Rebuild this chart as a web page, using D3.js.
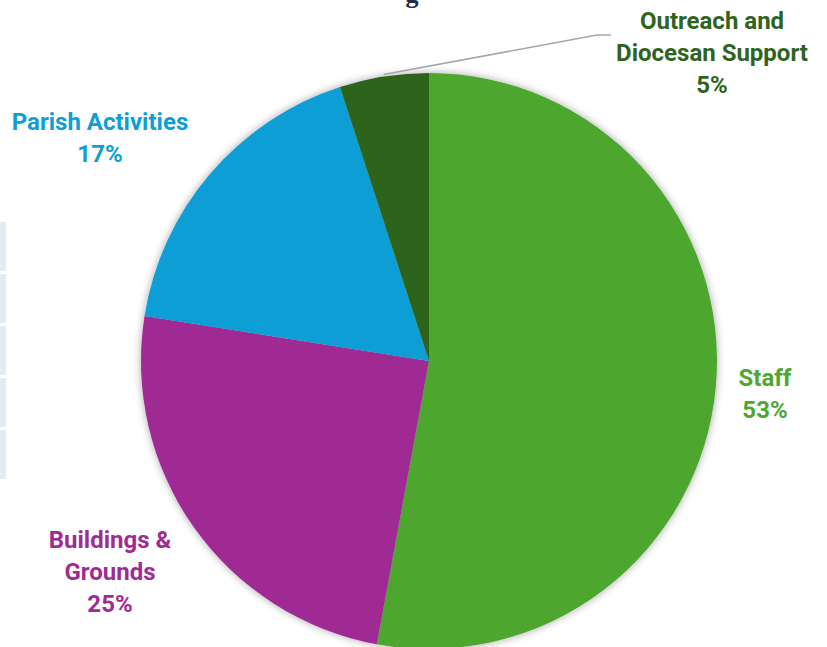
<!DOCTYPE html>
<html>
<head>
<meta charset="utf-8">
<script src="https://cdn.jsdelivr.net/npm/d3@7"></script>
<style>
  body { margin: 0; background: #fff; }
  svg { display: block; }
</style>
</head>
<body>
<svg width="827" height="647"></svg>
<script>
// chart data
const categories = ['Staff', 'Buildings & Grounds', 'Parish Activities', 'Outreach and Diocesan Support']
const shares = [52.9, 24.6, 17.5, 5.0]
const pctLabels = ['53%', '25%', '17%', '5%']
const colors = ['#4ea72e', '#a02b93', '#0f9ed5', '#2e641e']
// label lines and where each label block sits
const labelLines = [['Staff'], ['Buildings &', 'Grounds'], ['Parish Activities'], ['Outreach and', 'Diocesan Support']]
const labelPos = [[765, 378], [110, 540], [100, 122], [712, 21]]

const svg = d3.select('svg')
const cx = 429, cy = 361, r = 288

// left edge table fragments
const rows = d3.range(5)
svg.selectAll('.tbl').data(rows).enter().append('rect')
  .attr('x', 0).attr('y', (d) => 222 + d * 52)
  .attr('width', 6).attr('height', 49)
  .attr('fill', '#e6ebf3')

// title fragment cut off at the top
svg.append('text').attr('x', 412).attr('y', 3).attr('text-anchor', 'middle')
  .style('font-family', 'Liberation Serif').style('font-size', '26px').style('font-weight', 'bold')
  .attr('fill', '#1f2a44').text('g')

const defs = svg.append('defs')
const f = defs.append('filter').attr('id', 'sh').attr('x', '-20%').attr('y', '-20%').attr('width', '140%').attr('height', '140%')
f.append('feGaussianBlur').attr('in', 'SourceAlpha').attr('stdDeviation', 4)
f.append('feOffset').attr('dx', 0).attr('dy', 0).attr('result', 'b')
f.append('feComponentTransfer').append('feFuncA').attr('type', 'linear').attr('slope', 0.35)
const m = f.append('feMerge')
m.append('feMergeNode')
m.append('feMergeNode').attr('in', 'SourceGraphic')

const pie = d3.pie().sort(null).value((d) => d)
const arcs = pie(shares)
const arc = d3.arc().innerRadius(0).outerRadius(r)

const g = svg.append('g').attr('transform', `translate(${cx},${cy})`).attr('filter', 'url(#sh)')
g.selectAll('path').data(arcs).enter().append('path')
  .attr('d', arc)
  .attr('fill', (d, i) => colors[i])

// leader line for the small slice
const a3 = (arcs[3].startAngle + arcs[3].endAngle) / 2
const p0 = [cx + Math.sin(a3) * (r + 2), cy - Math.cos(a3) * (r + 2)]
svg.append('polyline')
  .attr('points', `${p0[0]},${p0[1]} 597,35 611,35`)
  .attr('fill', 'none').attr('stroke', '#a6a6a6').attr('stroke-width', 1.5)

// labels
categories.forEach((c, i) => {
  const lines = labelLines[i].concat([pctLabels[i]])
  const t = svg.append('text')
    .attr('text-anchor', 'middle')
    .style('font-family', 'Roboto, sans-serif').style('font-size', '24px').style('font-weight', 'bold')
    .attr('fill', colors[i])
  lines.forEach((l, j) => {
    t.append('tspan').attr('x', labelPos[i][0]).attr('y', labelPos[i][1] + j * 32)
      .attr('dy', '0.35em').text(l)
  })
})
</script>
</body>
</html>
